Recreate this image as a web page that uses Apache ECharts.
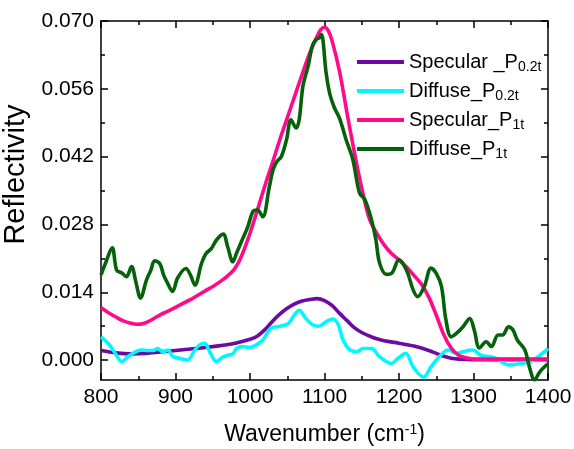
<!DOCTYPE html>
<html>
<head>
<meta charset="utf-8">
<title>Reflectivity</title>
<script src="https://cdn.jsdelivr.net/npm/echarts@6/dist/echarts.min.js"></script>
<style>
    html, body { margin: 0; padding: 0; background: #fff; }
    #chart1 { width: 574px; height: 449px; }
</style>
</head>
<body>
<div id="chart1"></div>
<script>
// Specular _P0.2t
var specSmallX = [800, 820, 840, 860, 880, 900, 920, 940, 960, 980, 1000, 1010, 1020, 1030, 1040, 1050, 1060, 1070, 1080, 1090,
    1100, 1110, 1120, 1130, 1140, 1150, 1160, 1170, 1180, 1200, 1220, 1240, 1250, 1260, 1270, 1280, 1300, 1340, 1400];
var specSmallY = [0.0020, 0.0015, 0.0013, 0.0014, 0.0017, 0.0020, 0.0023, 0.0026, 0.0030, 0.0035, 0.0043, 0.0050, 0.0063, 0.0080, 0.0095, 0.0107, 0.0116, 0.0122, 0.0125, 0.0127,
    0.0123, 0.0113, 0.0097, 0.0082, 0.0067, 0.0057, 0.0050, 0.0044, 0.0040, 0.0035, 0.0029, 0.0020, 0.0014, 0.0008, 0.0004, 0.0002, 0.0001, 0.0001, 0.0001];

// Diffuse_P0.2t
var diffSmallX = [800, 811, 820, 828, 836, 845, 854, 863, 870, 876, 883, 890, 896, 907, 916, 926, 932, 939, 946, 955,
    963, 970, 977, 982, 990, 999, 1008, 1017, 1028, 1037, 1051, 1058, 1066, 1075, 1084, 1092, 1102, 1111, 1118, 1125,
    1134, 1143, 1152, 1163, 1174, 1190, 1198, 1209, 1219, 1233, 1243, 1254, 1266, 1277, 1290, 1299, 1310, 1328, 1348, 1364,
    1380, 1398, 1400];
var diffSmallY = [0.0048, 0.0032, 0.0012, -0.0003, 0.0007, 0.0016, 0.0021, 0.0020, 0.0020, 0.0024, 0.0017, 0.0021, 0.0008, 0.0003, 0.0000, 0.0021, 0.0031, 0.0035, 0.0017, -0.0003,
    0.0006, 0.0010, 0.0013, 0.0024, 0.0028, 0.0026, 0.0031, 0.0041, 0.0066, 0.0069, 0.0075, 0.0090, 0.0103, 0.0086, 0.0073, 0.0070, 0.0079, 0.0085, 0.0075, 0.0041,
    0.0021, 0.0017, 0.0024, 0.0024, 0.0007, -0.0007, 0.0003, 0.0014, -0.0014, -0.0035, -0.0014, 0.0007, 0.0021, 0.0014, 0.0019, 0.0021, 0.0010, 0.0005, -0.0010, -0.0007,
    0.0000, 0.0021, 0.0024];

// Specular_P1t
var specBigX = [800, 810, 820, 830, 840, 848, 856, 864, 872, 880, 890, 900, 910, 920, 930, 940, 950, 960, 970, 978,
    985, 990, 995, 1000, 1010, 1020, 1030, 1040, 1050, 1060, 1070, 1080, 1090, 1095, 1100, 1105, 1110, 1120, 1130, 1140,
    1150, 1160, 1170, 1180, 1190, 1200, 1210, 1220, 1230, 1240, 1250, 1260, 1270, 1280, 1290, 1300, 1400];
var specBigY = [0.0108, 0.0098, 0.0089, 0.0081, 0.0076, 0.0074, 0.0075, 0.0080, 0.0087, 0.0094, 0.0101, 0.0109, 0.0117, 0.0125, 0.0134, 0.0143, 0.0152, 0.0162, 0.0174, 0.0186,
    0.0203, 0.0220, 0.0240, 0.0262, 0.0310, 0.0360, 0.0407, 0.0455, 0.0500, 0.0545, 0.0590, 0.0633, 0.0668, 0.0682, 0.0687, 0.0680, 0.0660, 0.0597, 0.0512, 0.0430,
    0.0355, 0.0293, 0.0262, 0.0238, 0.0220, 0.0207, 0.0192, 0.0175, 0.0157, 0.0130, 0.0093, 0.0053, 0.0025, 0.0010, 0.0005, 0.0002, 0.0002];

// Diffuse_P1t
var diffBigX = [800, 806, 815, 821, 828, 834, 841, 847, 853, 861, 867, 872, 879, 884, 889, 896, 903, 914, 920, 926,
    935, 941, 948, 955, 964, 970, 977, 982, 990, 997, 1004, 1010, 1017, 1026, 1031, 1036, 1042, 1049, 1055, 1062,
    1066, 1071, 1078, 1084, 1089, 1093, 1096, 1098, 1102, 1107, 1113, 1120, 1129, 1138, 1147, 1154, 1163, 1169, 1174, 1183,
    1190, 1200, 1210, 1219, 1225, 1234, 1243, 1250, 1257, 1263, 1270, 1277, 1286, 1295, 1301, 1308, 1317, 1324, 1333, 1339,
    1347, 1353, 1359, 1369, 1375, 1382, 1389, 1398, 1400];
var diffBigY = [0.0176, 0.0200, 0.0232, 0.0186, 0.0180, 0.0172, 0.0193, 0.0160, 0.0128, 0.0165, 0.0186, 0.0205, 0.0199, 0.0176, 0.0160, 0.0142, 0.0170, 0.0189, 0.0176, 0.0155,
    0.0200, 0.0220, 0.0230, 0.0248, 0.0260, 0.0234, 0.0203, 0.0221, 0.0250, 0.0275, 0.0307, 0.0310, 0.0296, 0.0358, 0.0393, 0.0410, 0.0420, 0.0455, 0.0496, 0.0479,
    0.0496, 0.0565, 0.0607, 0.0650, 0.0662, 0.0665, 0.0672, 0.0660, 0.0595, 0.0550, 0.0522, 0.0500, 0.0455, 0.0414, 0.0345, 0.0332, 0.0290, 0.0248, 0.0200, 0.0177,
    0.0179, 0.0207, 0.0186, 0.0145, 0.0131, 0.0152, 0.0190, 0.0179, 0.0152, 0.0083, 0.0048, 0.0055, 0.0069, 0.0086, 0.0062, 0.0025, 0.0038, 0.0028, 0.0052, 0.0052,
    0.0069, 0.0062, 0.0041, 0.0021, -0.0014, -0.0041, -0.0024, -0.0010, -0.0008];

var yMajor = [0, 0.014, 0.028, 0.042, 0.056, 0.070];
var yMinor = [0.007, 0.021, 0.035, 0.049, 0.063];
var seriesNames = ['Specular _P{s|0.2t}', 'Diffuse_P{s|0.2t}', 'Specular_P{s|1t}', 'Diffuse_P{s|1t}'];

var FONT = '"Liberation Sans", Arial, sans-serif';
var yMin = -0.0041, yMax = 0.070;

var chart1 = echarts.init(document.getElementById('chart1'));

function pairs(xs, ys) {
    return xs.map(function (x, i) { return [x, ys[i]]; });
}

function lineSeries(name, xs, ys, color) {
    return {
        name: name,
        type: 'line',
        data: pairs(xs, ys),
        showSymbol: false,
        smooth: 0.35,
        clip: true,
        lineStyle: { color: color, width: 3.6 },
        itemStyle: { color: color }
    };
}

function xAx(pos, showLabel) {
    return {
        type: 'value', position: pos, min: 800, max: 1400, interval: 100,
        axisLine: { show: true, onZero: false, lineStyle: { color: '#000', width: 1.5 } },
        axisTick: { show: true, inside: true, length: 7, lineStyle: { color: '#000', width: 1.5 } },
        minorTick: { show: true, splitNumber: 2, length: 4, lineStyle: { color: '#000', width: 1.5 } },
        axisLabel: {
            show: showLabel, fontSize: 21, color: '#000', fontFamily: FONT, margin: 7,
            formatter: function (v) { return String(v); }
        },
        splitLine: { show: false },
        minorSplitLine: { show: false }
    };
}

function yAx(pos, values, tickLen, showLine, showLabel) {
    return {
        type: 'value', position: pos, min: yMin, max: yMax,
        axisLine: { show: showLine, onZero: false, lineStyle: { color: '#000', width: 1.5 } },
        axisTick: { show: true, inside: true, length: tickLen, customValues: values, lineStyle: { color: '#000', width: 1.5 } },
        axisLabel: {
            show: showLabel, customValues: values, fontSize: 21, color: '#000', fontFamily: FONT, margin: 7,
            formatter: function (v) { return v.toFixed(3); }
        },
        splitLine: { show: false }
    };
}

var yLeft = yAx('left', yMajor, 7, true, true);
yLeft.name = 'Reflectivity';
yLeft.nameLocation = 'middle';
yLeft.nameGap = 61;
yLeft.nameTextStyle = { fontSize: 29, color: '#000', fontFamily: FONT, padding: [0, 0, 0, 52] };

var xBottom = xAx('bottom', true);
xBottom.name = 'Wavenumber (cm{sup|-1})';
xBottom.nameLocation = 'middle';
xBottom.nameGap = 43;
xBottom.nameTextStyle = {
    fontSize: 23, color: '#000', fontFamily: FONT,
    rich: { sup: { fontSize: 14, color: '#000', fontFamily: FONT, padding: [0, 0, 9, 0] } }
};

var option = {
    backgroundColor: '#fff',
    animation: false,
    grid: { left: 101, right: 26, top: 21, bottom: 69, outerBoundsMode: 'none' },
    legend: {
        orient: 'vertical', left: 352, top: 45, itemGap: 5,
        itemWidth: 47, itemHeight: 4, icon: 'rect',
        selectedMode: false,
        formatter: function (name) { return name; },
        textStyle: {
            fontSize: 20, color: '#000', fontFamily: FONT, lineHeight: 24,
            rich: { s: { fontSize: 14, color: '#000', fontFamily: FONT, padding: [10, 0, 0, 0] } }
        },
        data: seriesNames
    },
    xAxis: [xBottom, xAx('top', false)],
    yAxis: [
        yLeft,
        yAx('left', yMinor, 4, false, false),
        yAx('right', yMajor, 7, true, false),
        yAx('right', yMinor, 4, false, false)
    ],
    series: [
        lineSeries(seriesNames[0], specSmallX, specSmallY, '#6c0aa2'),
        lineSeries(seriesNames[1], diffSmallX, diffSmallY, '#00f7ff'),
        lineSeries(seriesNames[2], specBigX, specBigY, '#ff0a8a'),
        lineSeries(seriesNames[3], diffBigX, diffBigY, '#05620a')
    ]
};
chart1.setOption(option);
</script>
</body>
</html>
